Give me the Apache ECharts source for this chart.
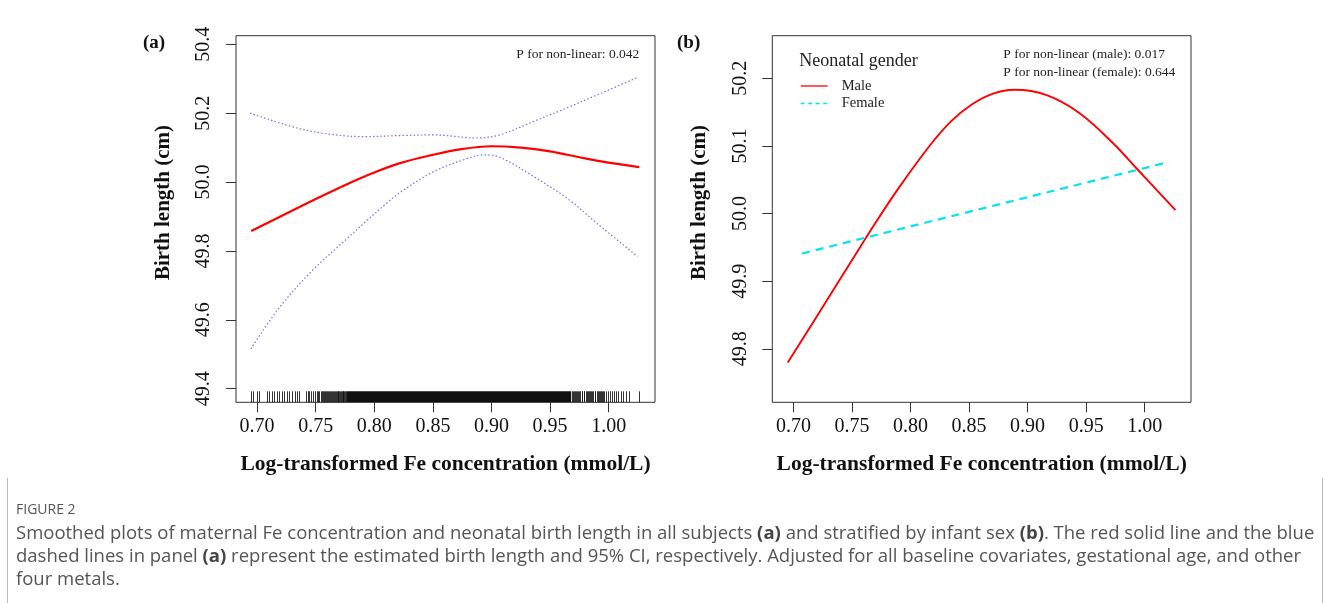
<!DOCTYPE html>
<html>
<head>
<meta charset="utf-8">
<script src="https://cdn.jsdelivr.net/npm/echarts@6/dist/echarts.min.js"></script>
<style>
html,body{margin:0;padding:0;background:#fff;}
#chart{width:1330px;height:603px;}
</style>
</head>
<body>
<div id="chart"></div>
<script>
// ---------- data ----------
const xTicks = [0.70, 0.75, 0.80, 0.85, 0.90, 0.95, 1.00];
const yTicksA = [49.4, 49.6, 49.8, 50.0, 50.2, 50.4];
const yTicksB = [49.8, 49.9, 50.0, 50.1, 50.2];

// Panel (a): estimated birth length
const fitA_x = [0.695, 0.714, 0.75, 0.78, 0.80, 0.822, 0.85, 0.873, 0.90, 0.925, 0.95, 0.975, 0.9935, 1.026];
const fitA_y = [49.858, 49.89, 49.951, 49.999, 50.028, 50.055, 50.079, 50.095, 50.104, 50.100, 50.089, 50.072, 50.06, 50.0435];
// Panel (a): 95% CI upper
const upA_x = [0.694, 0.734, 0.762, 0.791, 0.822, 0.85, 0.8875, 0.907, 0.936, 0.964, 0.9935, 1.0254];
const upA_y = [50.20, 50.157, 50.139, 50.132, 50.135, 50.137, 50.128, 50.137, 50.176, 50.215, 50.258, 50.305];
// Panel (a): 95% CI lower
const loA_x = [0.6946, 0.7196, 0.748, 0.7765, 0.7936, 0.811, 0.822, 0.8505, 0.879, 0.893, 0.907, 0.936, 0.966, 0.990, 1.0246];
const loA_y = [49.5155, 49.638, 49.746, 49.835, 49.888, 49.94, 49.97, 50.03, 50.068, 50.079, 50.072, 50.016, 49.949, 49.88, 49.784];

// Panel (a): rug of observed Fe values (individual ticks + dense stretches)
const rugTicks = [0.6949, 0.6963, 0.7003, 0.7014, 0.7083, 0.7105, 0.7125, 0.7145, 0.7168, 0.7188, 0.7211, 0.7230,
  0.7253, 0.7276, 0.7299, 0.7321, 0.7344, 0.7361, 0.7415, 0.7433, 0.7446, 0.7463, 0.7478, 0.7495, 0.7509,
  0.7523, 0.7531, 0.7542, 0.7551, 0.7563, 0.7570, 0.7582, 0.7591, 0.7600, 0.7609, 0.7617, 0.7625, 0.7633,
  0.7641, 0.7650, 0.7657, 0.7665, 0.7672, 0.7680, 0.7687, 0.7694, 0.7701, 0.7709, 0.7716, 0.7723, 0.7730,
  0.7737, 0.7744, 0.7751, 0.7758,
  0.9686, 0.9694, 0.9703, 0.9711, 0.9722, 0.9731, 0.9739, 0.9748, 0.9757, 0.9768, 0.9776, 0.9785, 0.9793,
  0.9804, 0.9812, 0.9821, 0.9832, 0.9840, 0.9851, 0.9859, 0.9868, 0.9879, 0.9887, 0.9898, 0.9906, 0.9917,
  0.9928, 0.9936, 0.9947, 0.9955,
  0.9961, 0.9978, 0.9995, 1.0012, 1.0029, 1.0046, 1.0063, 1.0083, 1.0103, 1.0125, 1.0148, 1.0177, 1.0262];
const rugBands = [[0.7765, 0.968]];

// Panel (b): by neonatal gender
const maleB_x = [0.6952, 0.72, 0.75, 0.77, 0.79, 0.8167, 0.835, 0.852, 0.87, 0.8891, 0.9163, 0.9447, 0.973, 0.9929, 1.0262];
const maleB_y = [49.78, 49.848, 49.931, 49.986, 50.038, 50.101, 50.137, 50.161, 50.177, 50.183, 50.175, 50.148, 50.104, 50.067, 50.005];
const femaleB_x = [0.7074, 1.0175];
const femaleB_y = [49.941, 50.075];

const pTextA = 'P for non-linear: 0.042';
const pTextB1 = 'P for non-linear (male): 0.017';
const pTextB2 = 'P for non-linear (female): 0.644';
const xName = 'Log-transformed Fe concentration (mmol/L)';
const yName = 'Birth length (cm)';

// ---------- build ----------
const zip = (xs, ys) => xs.map((x, i) => [x, ys[i]]);
const SERIF = '"Liberation Serif", "Times New Roman", serif';
const SANS = '"Open Sans", "Noto Sans", sans-serif';
const X_MIN = 0.682, X_MAX = 1.0395;
const YA_MIN = 49.3605, YA_MAX = 50.425;
const YB_MIN = 49.721, YB_MAX = 50.263;
const RUG_LEN = 11;

const gridA = {left: 236, top: 35.7, width: 419, height: 366.6};
const gridB = {left: 772.3, top: 35.7, width: 418.7, height: 366.6};

function xAxisCfg(gi) {
  return {
    type: 'value', gridIndex: gi, min: X_MIN, max: X_MAX,
    axisLine: {show: false},
    splitLine: {show: false},
    axisTick: {show: true, length: 10, customValues: xTicks, lineStyle: {color: '#333'}},
    axisLabel: {customValues: xTicks, formatter: v => v.toFixed(2), fontFamily: SERIF, fontSize: 20, color: '#111', margin: 14}
  };
}
function yAxisCfg(gi, mn, mx, ticks) {
  return {
    type: 'value', gridIndex: gi, min: mn, max: mx,
    axisLine: {show: false},
    splitLine: {show: false},
    axisTick: {show: true, length: 10, customValues: ticks, lineStyle: {color: '#333'}},
    axisLabel: {customValues: ticks, formatter: v => v.toFixed(1), rotate: 90, fontFamily: SERIF, fontSize: 20, color: '#111', margin: 22}
  };
}

function rugTickItem(params, api) {
  const p = api.coord([api.value(0), YA_MIN]);
  const x = Math.round(p[0]) + 0.5;
  return {type: 'line', shape: {x1: x, y1: p[1], x2: x, y2: p[1] - RUG_LEN},
    style: {stroke: '#111', lineWidth: 1, opacity: 0.85}};
}
function rugBandItem(params, api) {
  const a = api.coord([api.value(0), YA_MIN]);
  const b = api.coord([api.value(1), YA_MIN]);
  return {type: 'rect', shape: {x: a[0], y: a[1] - RUG_LEN, width: b[0] - a[0], height: RUG_LEN},
    style: {fill: '#111'}};
}

const ciStyle = {color: '#7070ff', width: 1.2, type: [1.5, 2.2]};

const option = {
  animation: false,
  backgroundColor: '#fff',
  grid: [
    Object.assign({show: true, borderColor: '#333', borderWidth: 1, backgroundColor: 'transparent'}, gridA),
    Object.assign({show: true, borderColor: '#333', borderWidth: 1, backgroundColor: 'transparent'}, gridB)
  ],
  xAxis: [xAxisCfg(0), xAxisCfg(1)],
  yAxis: [yAxisCfg(0, YA_MIN, YA_MAX, yTicksA), yAxisCfg(1, YB_MIN, YB_MAX, yTicksB)],
  legend: {
    show: true, orient: 'vertical', left: 800, top: 78.5, padding: 0,
    itemWidth: 27, itemHeight: 14, itemGap: 2.5,
    itemStyle: {opacity: 0},
    lineStyle: {width: 1.3},
    data: [{name: 'Male'}, {name: 'Female', lineStyle: {type: [4, 3.5]}}],
    textStyle: {fontFamily: SERIF, fontSize: 14.5, color: '#222', padding: [0, 0, 0, 9], lineHeight: 14}
  },
  series: [
    {type: 'line', name: 'CI upper', xAxisIndex: 0, yAxisIndex: 0, data: zip(upA_x, upA_y),
      showSymbol: false, symbol: 'none', smooth: 0.35, lineStyle: ciStyle, z: 2},
    {type: 'line', name: 'CI lower', xAxisIndex: 0, yAxisIndex: 0, data: zip(loA_x, loA_y),
      showSymbol: false, symbol: 'none', smooth: 0.35, lineStyle: ciStyle, z: 2},
    {type: 'line', name: 'Estimate', xAxisIndex: 0, yAxisIndex: 0, data: zip(fitA_x, fitA_y),
      showSymbol: false, symbol: 'none', smooth: 0.35, lineStyle: {color: '#ff0000', width: 2.2}, z: 3},
    {type: 'custom', name: 'rug', xAxisIndex: 0, yAxisIndex: 0, renderItem: rugTickItem,
      data: rugTicks.map(v => [v, YA_MIN]), encode: {x: 0, y: 1}, clip: false, z: 4},
    {type: 'custom', name: 'rugband', xAxisIndex: 0, yAxisIndex: 0, renderItem: rugBandItem,
      data: rugBands.map(b => [b[0], b[1]]), encode: {x: [0, 1]}, clip: false, z: 4},
    {type: 'line', name: 'Male', xAxisIndex: 1, yAxisIndex: 1, data: zip(maleB_x, maleB_y),
      showSymbol: false, symbol: 'none', smooth: 0.35, lineStyle: {color: '#ff0000', width: 1.9}, itemStyle: {color: '#ff0000'}, z: 3},
    {type: 'line', name: 'Female', xAxisIndex: 1, yAxisIndex: 1, data: zip(femaleB_x, femaleB_y),
      showSymbol: false, symbol: 'none', lineStyle: {color: '#00e5ee', width: 2.2, type: [8, 6]}, itemStyle: {color: '#00e5ee'}, z: 3}
  ],
  graphic: [
    {type: 'text', left: 143, top: 34, style: {text: '(a)', font: 'bold 19px ' + SERIF, fill: '#111'}},
    {type: 'text', left: 677, top: 34, style: {text: '(b)', font: 'bold 19px ' + SERIF, fill: '#111'}},
    {type: 'text', x: 164, y: 202.5, rotation: Math.PI / 2,
      style: {text: yName, font: 'bold 21px ' + SERIF, fill: '#111', align: 'center', verticalAlign: 'middle'}},
    {type: 'text', x: 700, y: 202.5, rotation: Math.PI / 2,
      style: {text: yName, font: 'bold 21px ' + SERIF, fill: '#111', align: 'center', verticalAlign: 'middle'}},
    {type: 'text', x: 445.5, y: 464, style: {text: xName, font: 'bold 21.5px ' + SERIF, fill: '#111', align: 'center', verticalAlign: 'middle'}},
    {type: 'text', x: 981.7, y: 464, style: {text: xName, font: 'bold 21.5px ' + SERIF, fill: '#111', align: 'center', verticalAlign: 'middle'}},
    {type: 'text', x: 639.3, y: 54, style: {text: pTextA, font: '13.5px ' + SERIF, fill: '#222', align: 'right', verticalAlign: 'middle'}},
    {type: 'text', x: 1003.3, y: 54, style: {text: pTextB1, font: '13.5px ' + SERIF, fill: '#222', align: 'left', verticalAlign: 'middle'}},
    {type: 'text', x: 1003.3, y: 72, style: {text: pTextB2, font: '13.5px ' + SERIF, fill: '#222', align: 'left', verticalAlign: 'middle'}},
    {type: 'text', x: 799.3, y: 61, style: {text: 'Neonatal gender', font: '18px ' + SERIF, fill: '#222', align: 'left', verticalAlign: 'middle'}},
    // caption
    {type: 'line', shape: {x1: 7.5, y1: 478, x2: 7.5, y2: 603}, style: {stroke: '#bbb', lineWidth: 1}},
    {type: 'line', shape: {x1: 1322.5, y1: 478, x2: 1322.5, y2: 603}, style: {stroke: '#bbb', lineWidth: 1}},
    {type: 'text', x: 16, y: 510, style: {text: 'FIGURE 2', font: '14px ' + SANS, fill: '#555', verticalAlign: 'middle'}},
    {type: 'text', x: 16, y: 534, style: {
      text: 'Smoothed plots of maternal Fe concentration and neonatal birth length in all subjects {b|(a)} and stratified by infant sex {b|(b)}. The red solid line and the blue',
      font: '18.5px ' + SANS, fill: '#555', verticalAlign: 'middle',
      rich: {b: {fontWeight: 'bold', fontFamily: SANS, fontSize: 18.5, fill: '#444'}}}},
    {type: 'text', x: 16, y: 557, style: {
      text: 'dashed lines in panel {b|(a)} represent the estimated birth length and 95% CI, respectively. Adjusted for all baseline covariates, gestational age, and other',
      font: '18.5px ' + SANS, fill: '#555', verticalAlign: 'middle',
      rich: {b: {fontWeight: 'bold', fontFamily: SANS, fontSize: 18.5, fill: '#444'}}}},
    {type: 'text', x: 16, y: 580, style: {text: 'four metals.', font: '18.5px ' + SANS, fill: '#555', verticalAlign: 'middle'}}
  ]
};

const chart = echarts.init(document.getElementById('chart'), null, {renderer: 'canvas'});
chart.setOption(option);
</script>
</body>
</html>
